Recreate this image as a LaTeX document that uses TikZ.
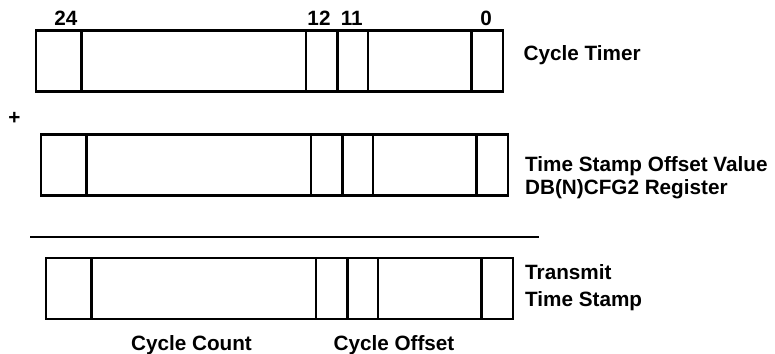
\documentclass[tikz,border=0pt]{standalone}
\usepackage{fontspec}
\setmainfont{Liberation Sans}
\begin{document}
\begin{tikzpicture}[x=1pt,y=-1pt,
  reg/.style={line width=2.6pt},
  lbl/.style={font=\bfseries\fontsize{20.7}{24}\selectfont,inner sep=0pt}]
\useasboundingbox (0,0) rectangle (775,353);
% three registers, each shifted a little to the right
\foreach \x/\y in {36/30.7, 41/134.7, 46/258} {
  \draw[reg] (\x,\y) rectangle ++(467,61);
  \foreach \d in {45.7,270,301.7,332,435.7}
    \draw[reg] (\x+\d,\y) -- ++(0,61);
}
% bit numbers
\node[lbl,anchor=base] (b24) at (66,26) {24};
\node[lbl,anchor=base] (b12) at (319,26) {12};
\node[lbl,anchor=base] (b11) at (351.7,26) {11};
\node[lbl,anchor=base] (b0) at (486,26) {0};
\node[lbl] (plus) at (14.5,118) {+};
% sum line
\coordinate (sl) at (30,237);
\coordinate (sr) at (539,237);
\draw[line width=2pt] (sl) -- (sr);
% names on the right
\node[lbl,anchor=base west] (ct) at (523.5,60.7) {Cycle Timer};
\node[lbl,anchor=base west] (tso) at (525,171) {Time Stamp Offset Value};
\node[lbl,anchor=base west] (cfg) at (525,194.3) {DB(N)CFG2 Register};
\node[lbl,anchor=base west] (tr) at (525,279.3) {Transmit};
\node[lbl,anchor=base west] (ts) at (525,306.5) {Time Stamp};
% field names
\node[lbl,anchor=base] (cc) at (191.5,350) {Cycle Count};
\node[lbl,anchor=base] (co) at (394,350) {Cycle Offset};
\end{tikzpicture}
\end{document}
